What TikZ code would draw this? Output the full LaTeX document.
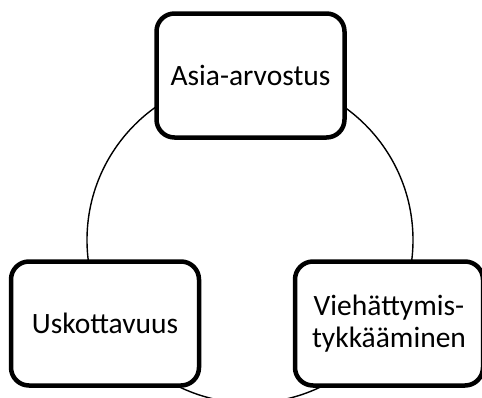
\documentclass[tikz,border=0pt]{standalone}
\usepackage{fontspec}
\setmainfont{Carlito}
\begin{document}
\begin{tikzpicture}[x=1pt,y=-1pt,
  cyclebox/.style={draw=black, line width=4.5pt, fill=white, rounded corners=18pt,
    minimum width=188pt, minimum height=124pt, align=center, inner sep=2pt,
    font=\fontsize{29.5}{32}\selectfont},
  ring/.style={draw=black, line width=1.4pt}]
\useasboundingbox (0,0) rectangle (482,397);
\clip (0,0) rectangle (482,397);
\coordinate (c) at (250,240);
\draw[ring] (c) circle[radius=163];
\node[cyclebox] (top) at (250.5,75.5) {Asia-arvostus};
\node[cyclebox] (left) at (105,323.5) {Uskottavuus};
\node[cyclebox] (right) at (389,323.5) {Viehättymis-\\tykkääminen};
\end{tikzpicture}
\end{document}
